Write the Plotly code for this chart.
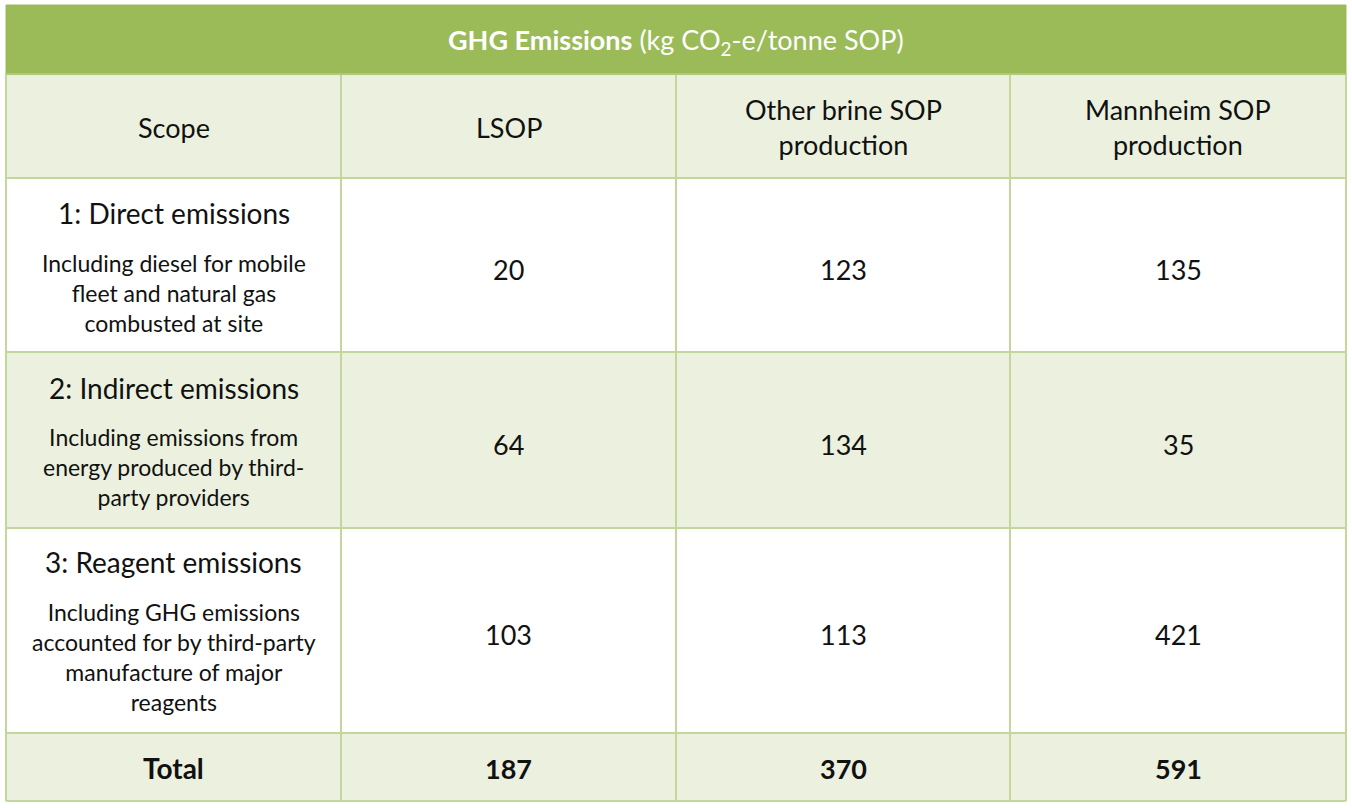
import plotly.graph_objects as go

# ---- data ----
title_bold = "GHG Emissions"
title_rest = " (kg CO<sub>2</sub>-e/tonne SOP)"
column_headers = ["Scope", "LSOP", "Other brine SOP<br>production", "Mannheim SOP<br>production"]
scope_names = ["1: Direct emissions", "2: Indirect emissions", "3: Reagent emissions"]
scope_descriptions = [
    "Including diesel for mobile<br>fleet and natural gas<br>combusted at site",
    "Including emissions from<br>energy produced by third-<br>party providers",
    "Including GHG emissions<br>accounted for by third-party<br>manufacture of major<br>reagents",
]
lsop = [20, 64, 103]
other_brine = [123, 134, 113]
mannheim = [135, 35, 421]
total_label = "Total"
totals = [187, 370, 591]

# ---- layout (pixel geometry) ----
W, H = 1352, 808
col_edges = [6, 341, 676, 1010, 1346]
row_edges = [5, 74, 178, 352, 528, 733, 801]
GREEN = "#9BBB59"
LIGHT = "#EBF1DE"
WHITE = "#FFFFFF"
BORDER = "#C3D69B"
FONT = "Lato, Open Sans, sans-serif"
TXT = "#111111"

row_fills = [GREEN, LIGHT, WHITE, LIGHT, WHITE, LIGHT]

fig = go.Figure()
shapes = []
for i, fill in enumerate(row_fills):
    shapes.append(dict(type="rect", xref="x", yref="y",
                       x0=col_edges[0], x1=col_edges[-1],
                       y0=row_edges[i], y1=row_edges[i + 1],
                       fillcolor=fill, line=dict(width=0), layer="below"))
# horizontal borders
for y in row_edges[1:]:
    shapes.append(dict(type="line", xref="x", yref="y", x0=col_edges[0], x1=col_edges[-1],
                       y0=y, y1=y, line=dict(color=BORDER, width=2)))
# vertical borders (below title band)
for x in col_edges:
    shapes.append(dict(type="line", xref="x", yref="y", x0=x, x1=x,
                       y0=row_edges[1], y1=row_edges[-1], line=dict(color=BORDER, width=2)))
# outer title band border
shapes.append(dict(type="rect", xref="x", yref="y", x0=col_edges[0], x1=col_edges[-1],
                   y0=row_edges[0], y1=row_edges[1], line=dict(color=GREEN, width=1)))

centers = [(col_edges[i] + col_edges[i + 1]) / 2 for i in range(4)]
ann = []

def add(x, y, text, size, color=TXT):
    ann.append(dict(x=x, y=y, xref="x", yref="y", text=text, showarrow=False,
                    font=dict(family=FONT, size=size, color=color),
                    xanchor="center", yanchor="middle", align="center"))

add((col_edges[0] + col_edges[-1]) / 2, 41, "<b>" + title_bold + "</b>" + title_rest, 27, "#FFFFFF")
for c, h in zip(centers, column_headers):
    add(c, (row_edges[1] + row_edges[2]) / 2 + 1, h, 27)

name_y = [213, 388, 562]
desc_y = [293, 467, 657]
for r in range(3):
    ymid = (row_edges[r + 2] + row_edges[r + 3]) / 2
    add(centers[0], name_y[r], scope_names[r], 28)
    add(centers[0], desc_y[r], scope_descriptions[r], 23)
    for c, vals in zip(centers[1:], [lsop, other_brine, mannheim]):
        add(c, ymid + 4, str(vals[r]), 27)

ty = (row_edges[5] + row_edges[6]) / 2 + 1
add(centers[0], ty, "<b>" + total_label + "</b>", 28)
for c, v in zip(centers[1:], totals):
    add(c, ty, "<b>" + str(v) + "</b>", 27)

fig.update_layout(
    width=W, height=H, margin=dict(l=0, r=0, t=0, b=0),
    paper_bgcolor="white", plot_bgcolor="white",
    xaxis=dict(range=[0, W], visible=False, fixedrange=True),
    yaxis=dict(range=[H, 0], visible=False, fixedrange=True),
    shapes=shapes, annotations=ann, showlegend=False,
)
fig.write_html("out.html", config={"displayModeBar": False},
               post_script="document.body.style.margin='0';document.body.style.overflow='hidden';")
